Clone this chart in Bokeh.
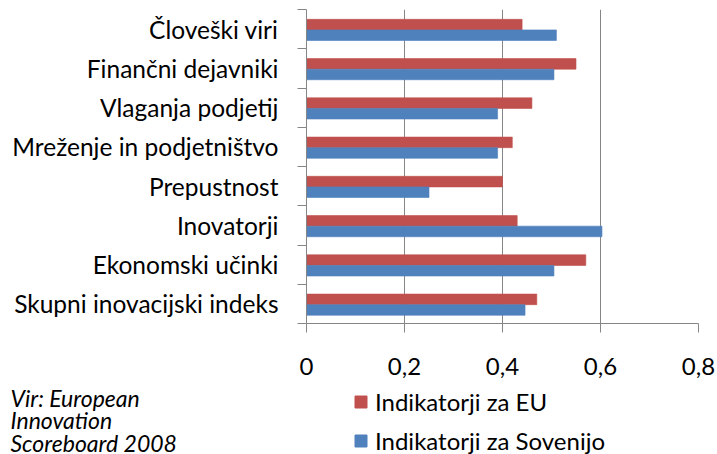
from bokeh.plotting import figure
from bokeh.layouts import column
from bokeh.models import (Range1d, FixedTicker, Legend, LegendItem, Label,
                          ColumnDataSource)
from bokeh.embed import file_html
from bokeh.resources import INLINE

# ---- data (top to bottom as in the chart) ----
categories = ["Človeški viri", "Finančni dejavniki", "Vlaganja podjetij",
              "Mreženje in podjetništvo", "Prepustnost", "Inovatorji",
              "Ekonomski učinki", "Skupni inovacijski indeks"]
eu_values = [0.44, 0.55, 0.46, 0.42, 0.40, 0.43, 0.57, 0.47]
si_values = [0.51, 0.505, 0.39, 0.39, 0.25, 0.603, 0.505, 0.446]
series_names = ["Indikatorji za EU", "Indikatorji za Sovenijo"]
x_ticks = [0, 0.2, 0.4, 0.6, 0.8]
x_tick_labels = ["0", "0,2", "0,4", "0,6", "0,8"]
source_lines = ["Vir: European", "Innovation", "Scoreboard 2008"]

RED = "#C0504D"
BLUE = "#4F81BD"
AXIS = "#868686"
FONT = "Lato"
FS = "24px"

n = len(categories)
pos = [n - 1 - i + 0.5 for i in range(n)]  # category centers, first on top

p = figure(frame_width=392, frame_height=314,
           min_border_left=306, min_border_right=19,
           min_border_top=9, min_border_bottom=63,
           x_range=Range1d(0, 0.8), y_range=Range1d(0, n),
           output_backend="svg", toolbar_location=None)
p.frame_align = False
p.outline_line_color = None
p.background_fill_color = "white"
p.border_fill_color = "white"

bar_h = 0.27
src_eu = ColumnDataSource(dict(y=[c + 0.115 for c in pos], right=eu_values))
src_si = ColumnDataSource(dict(y=[c - 0.155 for c in pos], right=si_values))
p.hbar(y="y", right="right", left=0, height=bar_h, source=src_eu,
       fill_color=RED, line_color=RED, line_alpha=0.6)
p.hbar(y="y", right="right", left=0, height=bar_h, source=src_si,
       fill_color=BLUE, line_color=BLUE, line_alpha=0.6)

# x axis
p.xaxis.ticker = FixedTicker(ticks=x_ticks)
p.xaxis.major_label_overrides = {t: l for t, l in zip(x_ticks, x_tick_labels)}
p.xaxis.axis_line_color = AXIS
p.xaxis.major_tick_line_color = AXIS
p.xaxis.major_tick_out = 9
p.xaxis.major_tick_in = 0
p.xaxis.minor_tick_line_color = None
p.xaxis.major_label_text_font = FONT
p.xaxis.major_label_text_font_size = FS
p.xaxis.major_label_text_color = "black"
p.xaxis.major_label_standoff = 25

# y axis: labels at centers, ticks at boundaries
p.yaxis.ticker = FixedTicker(ticks=pos, minor_ticks=list(range(n + 1)))
p.yaxis.major_label_overrides = {c: name for c, name in zip(pos, categories)}
p.yaxis.axis_line_color = AXIS
p.yaxis.major_tick_line_color = None
p.yaxis.major_tick_out = 9
p.yaxis.major_tick_in = 0
p.yaxis.minor_tick_line_color = AXIS
p.yaxis.minor_tick_out = 9
p.yaxis.minor_tick_in = 0
p.yaxis.major_label_text_font = FONT
p.yaxis.major_label_text_font_size = "24.5px"
p.yaxis.major_label_text_color = "black"
p.yaxis.major_label_standoff = 19

p.xgrid.ticker = FixedTicker(ticks=x_ticks[1:])
p.xgrid.grid_line_color = AXIS
p.xgrid.grid_line_width = 1
p.ygrid.grid_line_color = None

# ---- lower strip: legend and source note ----
q = figure(width=717, height=68, min_border=0,
           x_range=Range1d(0, 0.8), y_range=Range1d(100, 101),
           output_backend="svg", toolbar_location=None)
q.frame_align = False
q.axis.visible = False
q.grid.visible = False
q.outline_line_color = None
q.background_fill_color = "white"
q.border_fill_color = "white"
# same series drawn outside this strip's visible range; used for the legend keys
l_eu = q.hbar(y="y", right="right", left=0, height=bar_h, source=src_eu,
              fill_color=RED, line_color=RED)
l_si = q.hbar(y="y", right="right", left=0, height=bar_h, source=src_si,
              fill_color=BLUE, line_color=BLUE)

legend = Legend(items=[LegendItem(label=series_names[0], renderers=[l_eu]),
                       LegendItem(label=series_names[1], renderers=[l_si])],
                location=(353, -1), orientation="vertical",
                glyph_width=15, glyph_height=15, label_standoff=7,
                label_height=27,
                label_text_font=FONT, label_text_font_size=FS,
                label_text_color="black", spacing=10, padding=0, margin=0,
                border_line_color=None, background_fill_alpha=0)
q.add_layout(legend, "center")

for k, line in enumerate(source_lines):
    q.add_layout(Label(x=10, y=57 - 22.5 * k, x_units="screen",
                       y_units="screen", text=line, text_font=FONT,
                       text_font_size="23px", text_font_style="italic",
                       text_color="black", text_baseline="alphabetic"))

layout = column(p, q, spacing=0)
open("out.html", "w").write(file_html(layout, INLINE))
